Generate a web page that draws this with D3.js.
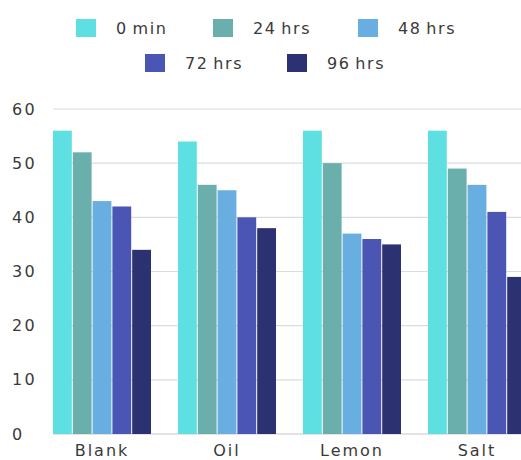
<!DOCTYPE html>
<html>
<head>
<meta charset="utf-8">
<script src="https://cdn.jsdelivr.net/npm/d3@7"></script>
<style>
  html, body { margin: 0; padding: 0; background: #ffffff; }
  svg { display: block; font-family: "DejaVu Sans", sans-serif; }
</style>
</head>
<body>
<svg id="chart" width="521" height="460"></svg>
<script>
// Samples and measurement times
const categories = ["Blank", "Oil", "Lemon", "Salt"];
const seriesNames = ["0 min", "24 hrs", "48 hrs", "72 hrs", "96 hrs"];
const seriesColors = ["#5ee0e2", "#6aafac", "#69aee0", "#4b55b4", "#2c3171"];

// One array per series, in category order
const min0  = [56, 54, 56, 56];
const hrs24 = [52, 46, 50, 49];
const hrs48 = [43, 45, 37, 46];
const hrs72 = [42, 40, 36, 41];
const hrs96 = [34, 38, 35, 29];
const seriesValues = [min0, hrs24, hrs48, hrs72, hrs96];

const yTicks = [0, 10, 20, 30, 40, 50, 60];

const svg = d3.select("#chart");
const plot = { left: 53, top: 109, bottom: 434, right: 521 };
const textColor = "#3a3a3a";
const fontSize = 16;
const spacing = 1.6;

const x0 = d3.scaleBand()
  .domain(categories)
  .range([plot.left, plot.left + 473])
  .paddingInner(0.216)
  .paddingOuter(0);

const x1 = d3.scaleBand()
  .domain(seriesNames)
  .range([0, x0.bandwidth()])
  .paddingInner(0.05);

const y = d3.scaleLinear().domain([0, 60]).range([plot.bottom, plot.top]);

const color = d3.scaleOrdinal().domain(seriesNames).range(seriesColors);

// Gridlines
svg.append("g")
  .selectAll("line")
  .data(yTicks)
  .join("line")
  .attr("x1", plot.left)
  .attr("x2", plot.right)
  .attr("y1", d => y(d))
  .attr("y2", d => y(d))
  .attr("stroke", d => d === 0 ? "#c8c8c8" : "#dcdcdc")
  .attr("stroke-width", 1.2);

// Y axis labels
const yAxis = svg.append("g")
  .attr("transform", "translate(12,0)")
  .call(d3.axisLeft(y).tickValues(yTicks).tickSize(0).tickPadding(0));
yAxis.select(".domain").remove();
yAxis.selectAll("text")
  .attr("text-anchor", "start")
  .attr("x", 0)
  .attr("font-family", "DejaVu Sans, sans-serif")
  .attr("font-size", fontSize)
  .attr("letter-spacing", 2.2)
  .attr("fill", textColor);

// Bars
const rows = categories.map((c, i) => ({
  cat: c,
  vals: seriesNames.map((s, j) => ({ key: s, value: seriesValues[j][i] }))
}));

svg.append("g")
  .selectAll("g")
  .data(rows)
  .join("g")
  .attr("transform", d => `translate(${x0(d.cat)},0)`)
  .selectAll("rect")
  .data(d => d.vals)
  .join("rect")
  .attr("x", d => x1(d.key))
  .attr("width", x1.bandwidth())
  .attr("y", d => y(d.value))
  .attr("height", d => y(0) - y(d.value))
  .attr("fill", d => color(d.key));

// Category axis
const xAxis = svg.append("g")
  .attr("transform", `translate(0,${plot.bottom})`)
  .call(d3.axisBottom(x0).tickSize(0).tickPadding(11));
xAxis.select(".domain").remove();
xAxis.selectAll("text")
  .attr("font-family", "DejaVu Sans, sans-serif")
  .attr("font-size", fontSize)
  .attr("letter-spacing", 2)
  .attr("fill", textColor);

// Legend, two centred rows
const legendRows = [
  { items: [0, 1, 2], y: 28, xs: [76, 213, 358] },
  { items: [3, 4], y: 63, xs: [145, 287] }
];
const legend = svg.append("g");
legendRows.forEach(row => {
  row.items.forEach((idx, k) => {
    const g = legend.append("g").attr("transform", `translate(${row.xs[k]},${row.y})`);
    g.append("rect")
      .attr("x", 0).attr("y", -9)
      .attr("width", 20).attr("height", 18)
      .attr("fill", seriesColors[idx]);
    g.append("text")
      .attr("x", 40).attr("y", 0)
      .attr("dy", "0.36em")
      .attr("font-size", fontSize)
      .attr("letter-spacing", spacing)
      .attr("word-spacing", -2)
      .attr("fill", textColor)
      .text(seriesNames[idx]);
  });
});
</script>
</body>
</html>
